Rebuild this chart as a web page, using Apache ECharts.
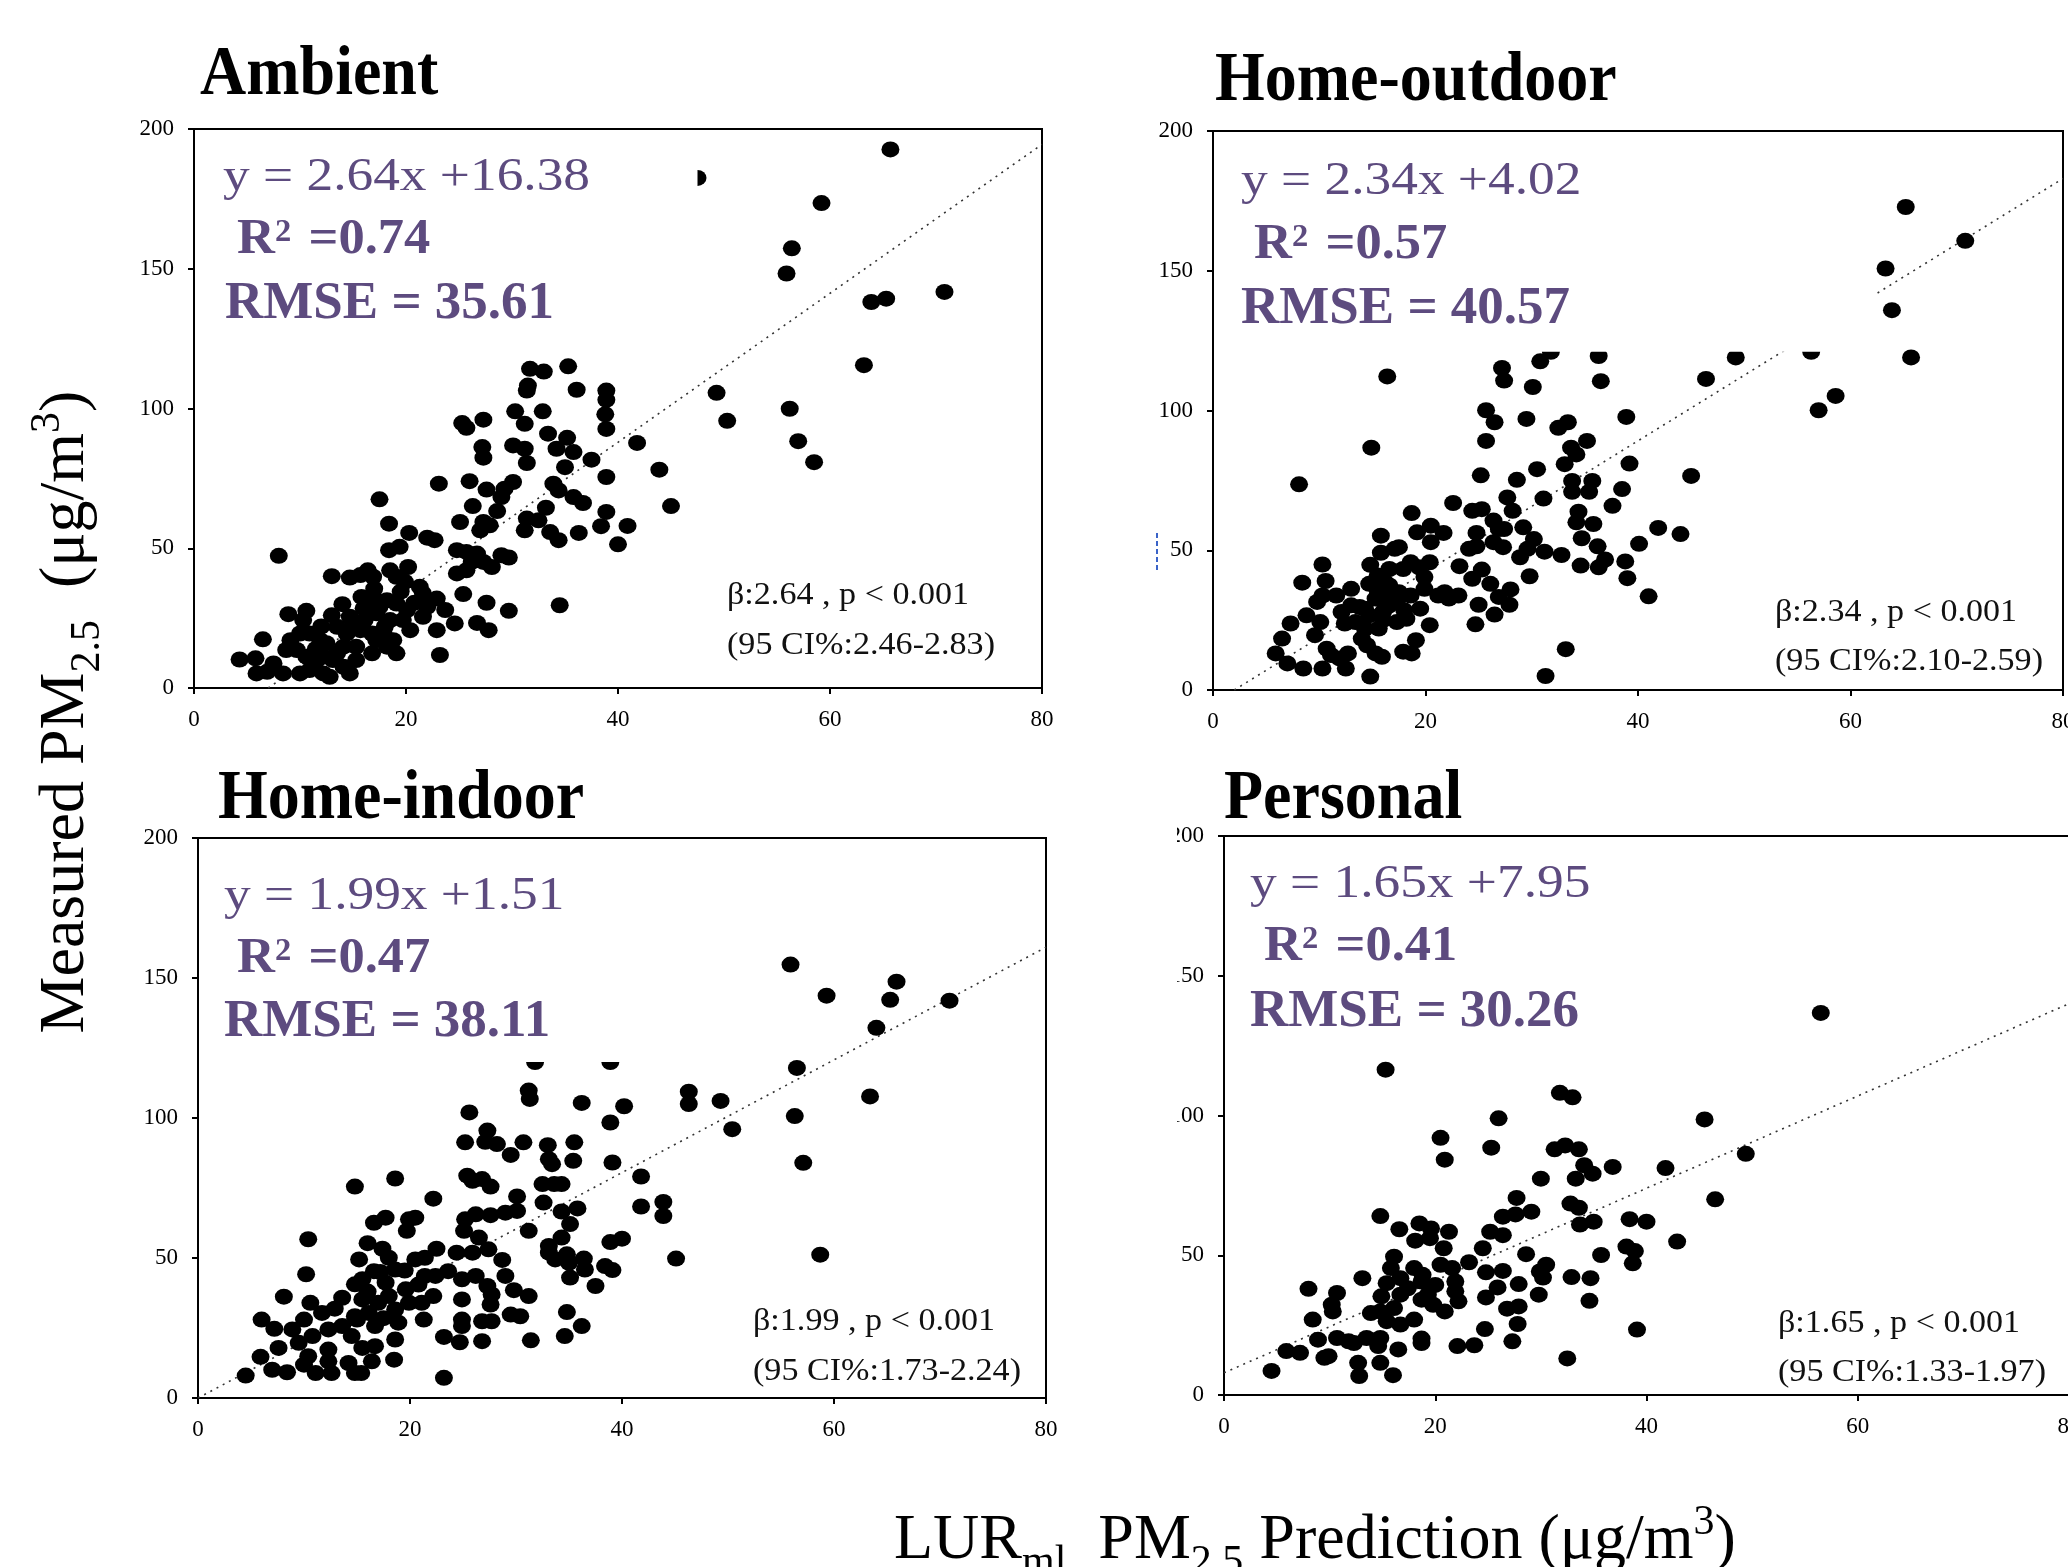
<!DOCTYPE html>
<html><head><meta charset="utf-8">
<script src="https://cdn.jsdelivr.net/npm/echarts@6/dist/echarts.min.js"></script>
<style>html,body{margin:0;padding:0;background:#fff}#c{width:2068px;height:1567px}</style>
</head><body><div id="c"></div>
<script>
// ---------------- DATA ----------------
const panelTitles = ['Ambient', 'Home-outdoor', 'Home-indoor', 'Personal'];
const equations = ['y = 2.64x +16.38', 'y = 2.34x +4.02', 'y = 1.99x +1.51', 'y = 1.65x +7.95'];
const r2Values = ['0.74', '0.57', '0.47', '0.41'];
const rmseValues = ['35.61', '40.57', '38.11', '30.26'];
const betaTexts = ['β:2.64 , p < 0.001', 'β:2.34 , p < 0.001', 'β:1.99 , p < 0.001', 'β:1.65 , p < 0.001'];
const ciTexts = ['(95 CI%:2.46-2.83)', '(95 CI%:2.10-2.59)', '(95 CI%:1.73-2.24)', '(95 CI%:1.33-1.97)'];
const xTickValues = [0, 20, 40, 60, 80];
const yTickValues = [0, 50, 100, 150, 200];

const ambientPoints = [
[31.7,114.2],[33.0,113.2],[35.3,115.1],[31.4,106.4],[31.5,108.2],[36.1,106.7],[38.9,106.4],[38.9,103.1],[38.8,97.9],[38.9,92.7],
[30.3,99.0],[32.9,99.0],[31.2,94.5],[27.3,96.0],[25.3,94.8],[25.7,93.1],[33.4,91.0],[35.2,89.5],[34.2,85.6],[35.8,84.4],
[30.1,86.8],[31.2,85.6],[31.4,80.5],[27.2,86.2],[27.3,82.4],[35.0,79.0],[37.5,81.7],[41.8,87.7],[43.9,78.1],[38.9,75.5],
[45.0,65.1],[23.1,73.1],[26.0,74.0],[27.6,71.0],[30.1,73.7],[29.3,71.3],[29.0,68.3],[26.3,65.1],[28.6,63.3],[33.9,73.1],
[34.4,70.7],[35.8,68.3],[36.7,66.2],[33.2,64.5],[32.5,60.0],[31.4,60.6],[31.2,56.4],[33.6,55.8],[34.4,52.9],[36.3,55.5],
[38.9,63.0],[38.4,57.9],[40.9,58.0],[40.0,51.4],[25.1,59.4],[27.3,59.4],[27.0,56.4],[27.9,58.2],[17.5,67.5],[18.4,58.8],
[20.3,55.5],[22.0,53.8],[22.7,52.9],[24.8,49.3],[25.7,48.7],[26.7,48.1],[26.2,45.1],[24.8,41.0],[25.7,42.1],[27.3,45.1],
[28.1,43.3],[29.0,47.5],[29.7,46.7],[25.4,33.6],[27.6,30.5],[29.7,27.6],[34.5,29.6],[26.7,23.3],[27.8,20.7],[24.6,23.1],
[23.2,11.8],[8.0,47.3],[13.0,40.0],[14.7,39.5],[15.7,40.4],[16.4,42.1],[16.9,39.8],[18.4,49.3],[19.4,50.5],[18.5,42.1],
[20.2,43.3],[19.1,39.8],[19.9,38.0],[21.3,36.2],[21.6,33.8],[22.9,32.0],[23.7,27.9],[22.9,20.7],[21.6,25.5],[20.4,20.7],
[15.8,32.6],[16.9,32.6],[18.2,31.4],[19.1,30.2],[20.1,27.9],[14.7,25.5],[16.1,24.3],[17.2,26.7],[18.5,24.3],[19.7,24.3],
[13.5,21.9],[14.4,19.5],[15.7,20.7],[16.8,19.5],[17.9,19.5],[18.8,17.1],[19.1,12.4],[16.8,12.4],[15.3,10.0],[14.7,5.2],
[13.5,12.4],[12.5,16.0],[11.9,17.1],[10.9,19.5],[10.0,19.5],[9.1,17.1],[8.7,13.6],[9.7,13.6],[10.6,11.2],[10.9,6.4],
[12.2,5.2],[12.8,4.0],[10.0,5.2],[8.4,5.2],[7.5,8.8],[6.9,5.8],[5.9,5.2],[5.8,10.6],[4.3,10.2],[6.5,17.4],
[8.9,26.4],[10.6,27.6],[10.3,24.3],[11.6,10.0],[14.1,7.6],[15.3,14.8],[14.1,14.8],[12.2,11.2],[13.1,10.0],[17.2,17.1],
[18.2,14.8],[16.0,28.5],[17.5,29.0],[18.0,22.0],[15.0,22.5],[13.0,26.0],[12.0,22.0],[17.0,35.5],[19.5,34.5],[20.8,30.5],
[22.0,29.0],[14.0,30.0],[11.5,14.0],
[65.7,192.7],[47.5,182.5],[59.2,173.5],[56.4,157.3],[55.9,148.3],[63.9,138.1],[65.3,139.3],[70.8,141.7],[63.2,115.5],
[49.3,105.6],[50.3,95.6],[56.2,99.9],[57.0,88.3],[58.5,80.8]
];

const outdoorPoints = [
[31.8,121.0],[36.3,119.5],[30.8,117.6],[27.2,115.2],[27.4,110.7],[30.1,108.4],[36.5,110.5],[46.4,111.3],[16.4,112.2],[25.7,100.1],
[26.5,95.8],[29.5,97.0],[32.5,93.8],[33.4,95.8],[38.9,97.7],[25.7,89.1],[35.2,89.1],[33.7,86.7],[34.2,84.3],[14.9,86.7],
[8.1,73.6],[33.1,80.8],[39.2,81.0],[45.0,76.6],[30.5,79.0],[25.2,76.8],[28.6,75.2],[33.8,74.8],[33.8,70.9],[35.7,74.8],
[35.4,70.9],[38.5,71.9],[37.6,65.9],[31.1,68.5],[27.7,68.9],[28.2,64.1],[22.6,66.9],[18.7,63.3],[24.4,64.1],[25.3,64.7],
[26.4,60.6],[27.4,57.6],[34.4,63.8],[34.2,60.0],[35.8,59.4],[34.7,54.3],[36.2,51.4],[29.2,58.2],[30.2,54.0],[29.6,50.5],
[28.9,47.5],[31.2,49.5],[32.8,48.3],[34.6,44.5],[36.3,43.9],[36.9,46.7],[38.8,46.0],[39.0,40.0],[40.1,52.3],[41.9,58.0],
[44.0,55.8],[41.0,33.5],[29.8,40.7],[24.8,56.2],[24.1,50.5],[24.8,51.4],[26.4,52.9],[27.3,51.1],[26.9,57.6],[25.3,43.1],
[24.4,39.8],[23.2,44.3],[26.1,38.0],[28.0,36.0],[26.9,33.3],[27.9,30.5],[25.0,30.5],[26.5,27.0],[24.7,23.5],[33.2,14.6],
[31.3,5.0],[19.2,56.4],[20.5,58.8],[21.7,56.2],[15.8,55.2],[15.8,49.1],[20.5,52.9],[17.5,51.1],[18.6,45.7],[19.4,43.9],
[20.4,45.7],[19.9,40.4],[14.8,44.8],[14.7,38.0],[16.6,37.4],[16.8,33.8],[15.3,32.7],[14.3,29.1],[16.0,27.9],[17.3,31.5],
[18.6,33.8],[19.5,29.1],[18.2,25.5],[17.3,24.3],[15.6,22.0],[14.3,22.0],[13.4,24.3],[13.8,29.7],[13.0,36.2],[12.1,27.9],
[12.4,23.8],[11.6,33.8],[10.3,44.9],[10.6,39.0],[8.4,38.4],[9.8,31.5],[10.3,33.8],[8.8,26.7],[10.1,24.3],[9.6,19.6],
[7.3,23.8],[6.5,18.4],[5.9,13.1],[7.0,9.5],[8.5,7.7],[10.3,7.7],[11.1,12.5],[12.5,7.7],[12.7,13.1],[14.0,18.4],
[14.5,16.0],[15.3,13.1],[15.9,11.9],[14.8,4.8],[17.9,13.7],[18.7,13.1],[19.1,17.8],[20.4,23.2],[21.2,33.8],[21.8,35.0],
[22.2,32.7],[23.1,33.8],[19.9,36.2],[17.9,43.3],[17.1,50.5],[16.2,38.6],[15.5,41.0],[16.6,43.3],[14.7,26.7],[13.0,30.3],
[10.7,14.8],[11.9,11.3],[16.5,30.0],[17.5,35.0],[15.5,35.5],[18.0,28.5],[16.0,25.0],
[65.2,172.8],[70.8,160.7],[63.3,150.8],[63.9,135.9],[65.7,119.0],[56.3,121.0],[49.2,119.0],[57.0,100.1],[58.6,105.2]
];

const indoorPoints = [
[31.8,120.0],[38.9,120.0],[31.2,109.8],[31.3,106.8],[36.2,105.4],[40.2,104.2],[46.3,109.4],[46.3,105.0],[38.9,98.4],[25.6,102.0],
[27.3,95.5],[27.1,91.5],[28.2,90.7],[25.2,91.3],[29.5,86.8],[30.7,91.3],[33.0,90.3],[33.1,85.3],[33.4,83.5],[35.5,91.3],
[35.4,84.7],[39.1,84.1],[41.8,79.1],[41.8,68.4],[43.9,70.0],[43.9,65.0],[45.1,49.8],[38.9,55.7],[40.0,56.9],[38.4,47.1],
[39.1,45.7],[25.4,79.4],[25.9,77.6],[26.8,78.2],[27.6,75.5],[18.6,78.4],[14.8,75.5],[22.2,71.2],[30.1,72.0],[30.1,66.8],
[29.0,66.2],[27.6,65.3],[26.2,65.6],[25.2,63.8],[25.1,59.7],[31.2,59.7],[32.6,69.8],[32.5,76.4],[33.6,76.4],[34.3,76.4],
[34.3,66.6],[35.8,67.7],[35.1,62.1],[34.3,57.3],[33.1,54.3],[33.1,51.9],[33.7,49.5],[34.8,51.3],[35.0,48.3],[36.4,49.8],
[36.5,45.9],[35.1,43.0],[37.5,40.0],[26.5,57.3],[27.4,53.1],[28.7,49.3],[29.0,43.6],[27.3,40.0],[27.7,37.0],[27.6,33.4],
[29.8,38.5],[31.2,36.4],[29.5,29.8],[30.4,29.2],[27.7,27.4],[26.8,27.4],[26.8,20.3],[24.9,35.2],[24.9,28.0],[24.9,25.7],
[24.7,19.9],[23.2,21.8],[23.2,7.2],[31.4,20.6],[34.8,30.7],[36.2,25.7],[34.6,22.1],[24.4,51.9],[25.9,51.9],[26.2,43.6],
[24.9,42.4],[23.6,45.3],[22.5,53.3],[21.4,50.1],[20.5,49.5],[21.4,43.6],[22.4,43.6],[22.2,36.4],[21.1,34.0],[21.3,28.0],
[19.9,63.8],[20.5,64.4],[19.7,59.7],[17.7,64.4],[16.6,62.6],[16.0,55.3],[17.4,53.3],[15.2,49.5],[18.0,50.1],[18.6,45.9],
[16.6,45.3],[15.5,42.4],[14.8,40.6],[13.6,35.8],[12.9,31.9],[11.7,30.4],[10.4,56.7],[10.2,44.2],[8.1,36.2],[10.6,34.0],
[10.0,28.0],[8.9,24.5],[7.2,24.7],[6.0,28.0],[7.6,17.9],[5.9,14.7],[7.0,10.1],[8.4,9.2],[4.5,8.0],[10.0,11.9],
[11.1,8.9],[12.6,8.9],[12.3,13.1],[14.2,12.5],[14.8,8.9],[15.4,8.9],[16.4,13.1],[18.5,13.7],[18.6,20.9],[16.7,18.5],
[15.5,17.9],[14.5,22.1],[12.3,17.3],[12.3,24.5],[13.6,25.7],[14.8,29.2],[16.1,30.4],[17.0,34.0],[18.6,31.6],[18.9,26.9],
[16.7,25.7],[15.5,35.2],[17.7,41.2],[19.6,38.8],[19.9,34.0],[18.0,36.4],[10.8,22.1],[9.5,19.7],[10.4,14.9],[16.0,38.0],
[17.2,45.0],[15.0,28.0],[17.5,28.5],[19.5,45.5],[20.8,40.5],
[55.9,154.8],[59.3,143.7],[65.9,148.7],[65.3,142.2],[70.9,141.9],[64.0,132.2],[56.5,117.9],[56.3,100.7],[57.1,84.0],
[58.7,51.2],[63.4,107.7],[49.3,106.1],[50.4,96.0]
];

const personalPoints = [
[15.3,116.4],[31.8,108.1],[33.0,106.5],[26.0,99.0],[45.5,98.6],[20.5,92.0],[20.9,84.2],[25.3,88.5],[31.3,87.9],[32.3,89.3],
[33.6,87.9],[34.1,82.2],[34.9,79.2],[36.8,81.6],[33.3,77.4],[30.0,77.4],[41.8,81.2],[49.4,86.3],[46.5,70.0],[27.7,70.5],
[27.6,64.6],[29.1,65.6],[26.4,63.8],[32.8,68.5],[33.6,67.0],[33.7,61.0],[35.0,62.0],[38.4,62.9],[40.0,62.0],[42.9,54.9],
[38.1,53.1],[38.9,51.5],[38.7,47.1],[35.7,50.1],[14.8,64.0],[16.6,59.3],[18.1,55.2],[18.5,61.4],[19.6,59.6],[19.5,56.1],
[21.3,58.4],[20.8,52.5],[25.2,58.4],[26.4,57.2],[24.5,52.5],[23.2,47.5],[28.6,50.4],[30.5,46.6],[29.9,44.2],[30.2,42.0],
[32.9,42.2],[34.7,41.8],[34.6,33.7],[29.8,35.9],[27.9,39.7],[24.8,43.9],[26.4,44.4],[25.9,38.5],[24.8,34.9],[26.8,30.9],
[27.9,31.7],[27.8,25.4],[24.7,23.6],[27.3,19.2],[23.7,17.8],[22.1,17.5],[18.7,20.2],[18.7,18.6],[39.1,23.4],[32.5,13.1],
[16.1,49.5],[15.8,45.4],[13.1,41.8],[15.4,40.0],[16.7,41.8],[17.4,38.2],[18.8,43.0],[20.0,39.4],[21.6,45.4],[20.5,46.6],
[21.9,40.6],[21.9,37.1],[22.2,33.5],[20.9,29.9],[19.8,32.3],[18.7,34.1],[16.7,35.9],[14.9,35.3],[14.8,29.9],[13.9,29.3],
[15.4,26.4],[16.7,25.2],[18.0,27.0],[16.1,31.1],[14.8,20.4],[14.6,17.5],[13.5,20.4],[12.3,18.6],[11.8,19.2],[10.7,20.4],
[8.9,19.8],[8.4,27.0],[8.0,38.0],[10.7,36.5],[10.2,32.3],[10.3,29.9],[9.9,13.9],[9.5,13.3],[7.2,15.1],[5.9,15.7],
[4.5,8.6],[12.7,11.5],[12.8,6.8],[14.8,11.5],[16.0,7.1],[16.5,16.3],[18.7,40.6],[18.0,45.4],[19.3,35.9],
[56.5,136.7]
];

// dotted fit line end points [x, y]
const ambientFit = [[7, 0], [80, 194.5]];
const outdoorFit = [[2, 0], [80, 183]];
const indoorFit = [[0, 0], [80, 161]];
const personalFit = [[0, 7.95], [80, 140]];

const panelPoints = [ambientPoints, outdoorPoints, indoorPoints, personalPoints];
const panelFits = [ambientFit, outdoorFit, indoorFit, personalFit];

// ---------------- LAYOUT ----------------
const FONT = '"Liberation Serif","Times New Roman",serif';
const PURPLE = '#5d4b7f';
const grids = [
  {left: 194, top: 129, width: 848, height: 559},
  {left: 1213, top: 131, width: 850, height: 559},
  {left: 198, top: 838, width: 848, height: 560},
  {left: 1224, top: 836, width: 845, height: 559}
];
// white text-box backdrop regions in data units [x0, y0, x1, y1]
const textBoxes = [[0, 121, 47.5, 200], [0, 121, 62.4, 200], [0, 120, 52, 200], null];
const titlePos = [[200, 76], [1215, 82], [218, 800], [1224, 800]];
const eqPos = [[223, 178], [1241, 182], [224, 897], [1250, 885]];
const r2Pos = [[237, 240], [1254, 245], [237, 959], [1264, 947]];
const rmsePos = [[225, 304], [1241, 309], [224, 1022], [1250, 1012]];
const betaPos = [[727, 596], [1775, 613], [753, 1322], [1778, 1324]];
const ciPos = [[727, 646], [1775, 662], [753, 1372], [1778, 1373]];

const chart = echarts.init(document.getElementById('c'), null, {renderer: 'canvas'});

const xAxes = [], yAxes = [], series = [], graphics = [];
grids.forEach((g, i) => {
  const axisCommon = {
    gridIndex: i, type: 'value',
    axisLine: {show: true, onZero: false, lineStyle: {color: '#000', width: 2}},
    axisTick: {show: true, inside: false, length: 6, lineStyle: {color: '#000', width: 2}},
    splitLine: {show: false},
    axisLabel: {show: true, color: '#000', fontFamily: FONT, fontSize: 23, hideOverlap: false}
  };
  xAxes.push(Object.assign({}, axisCommon, {
    min: xTickValues[0], max: xTickValues[xTickValues.length - 1], interval: xTickValues[1] - xTickValues[0],
    axisLabel: Object.assign({}, axisCommon.axisLabel, {margin: 20})
  }));
  yAxes.push(Object.assign({}, axisCommon, {
    min: yTickValues[0], max: yTickValues[yTickValues.length - 1], interval: yTickValues[1] - yTickValues[0],
    axisLabel: Object.assign({}, axisCommon.axisLabel, {margin: 20})
  }));
  series.push({
    type: 'line', xAxisIndex: i, yAxisIndex: i, data: panelFits[i], symbol: 'none', silent: true, z: 1,
    lineStyle: {color: '#333', width: 1.6, type: [2, 5]}
  });
  series.push({
    type: 'scatter', xAxisIndex: i, yAxisIndex: i, data: panelPoints[i], symbol: 'circle',
    symbolSize: [18, 16], itemStyle: {color: '#000', opacity: 1}, silent: true, z: 2
  });
  if (textBoxes[i]) {
    series.push({
      type: 'custom', xAxisIndex: i, yAxisIndex: i, data: [textBoxes[i]], silent: true, z: 5, clip: false,
      encode: {x: [0, 2], y: [1, 3]},
      renderItem: (params, api) => {
        const p0 = api.coord([api.value(0), api.value(3)]);
        const p1 = api.coord([api.value(2), api.value(1)]);
        return {type: 'rect', shape: {x: p0[0] + 2, y: p0[1] + 2, width: p1[0] - p0[0] - 2, height: p1[1] - p0[1] - 2},
                style: {fill: '#fff'}};
      }
    });
  }
  // texts
  graphics.push({type: 'text', x: titlePos[i][0], y: titlePos[i][1], z: 100, scaleY: 1.08,
    style: {text: panelTitles[i], font: 'bold 64px ' + FONT, fill: '#000', textAlign: 'left', textVerticalAlign: 'middle'}});
  graphics.push({type: 'text', x: eqPos[i][0], y: eqPos[i][1], z: 100, scaleX: 1.16,
    style: {text: equations[i], font: '46px ' + FONT, fill: PURPLE, textAlign: 'left', textVerticalAlign: 'middle'}});
  graphics.push({type: 'text', x: r2Pos[i][0], y: r2Pos[i][1], z: 100, scaleX: 1.05,
    style: {text: 'R{sup|2} =' + r2Values[i], font: 'bold 50px ' + FONT, fill: PURPLE, textAlign: 'left', textVerticalAlign: 'middle',
      lineHeight: 58,
      rich: {sup: {fontSize: 31, fontWeight: 'bold', fontFamily: FONT, fill: PURPLE, verticalAlign: 'top', lineHeight: 31, padding: [6, 4, 0, 0]}}}});
  graphics.push({type: 'text', x: rmsePos[i][0], y: rmsePos[i][1], z: 100,
    style: {text: 'RMSE = ' + rmseValues[i], font: 'bold 53px ' + FONT, fill: PURPLE, textAlign: 'left', textVerticalAlign: 'middle'}});
  graphics.push({type: 'text', x: betaPos[i][0], y: betaPos[i][1], z: 100, scaleX: 1.1,
    style: {text: betaTexts[i], font: '31px ' + FONT, fill: '#111', textAlign: 'left', textVerticalAlign: 'middle'}});
  graphics.push({type: 'text', x: ciPos[i][0], y: ciPos[i][1], z: 100, scaleX: 1.1,
    style: {text: ciTexts[i], font: '31px ' + FONT, fill: '#111', textAlign: 'left', textVerticalAlign: 'middle'}});
});

const axisRich = {
  sub: {fontSize: 42, fontFamily: FONT, fill: '#000', verticalAlign: 'bottom', lineHeight: 42},
  sup: {fontSize: 42, fontFamily: FONT, fill: '#000', verticalAlign: 'top', lineHeight: 42, padding: [4, 0, 0, 0]}
};
// y-axis title
graphics.push({type: 'text', x: 66, y: 712, rotation: Math.PI / 2, z: 100,
  style: {text: 'Measured PM{sub|2.5}  (μg/m{sup|3})', font: '64px ' + FONT, fill: '#000',
    textAlign: 'center', textVerticalAlign: 'middle', lineHeight: 86, rich: axisRich}});
// x-axis title
graphics.push({type: 'text', x: 894, y: 1541, z: 100,
  style: {text: 'LUR{sub|ml}  PM{sub|2.5} Prediction (μg/m{sup|3})', font: '64px ' + FONT, fill: '#000',
    textAlign: 'left', textVerticalAlign: 'middle', lineHeight: 86, rich: axisRich}});
// cropping artefacts of the source figure
graphics.push({type: 'rect', z: 100, shape: {x: 1140, y: 820, width: 37, height: 312}, style: {fill: '#fff'}});
graphics.push({type: 'line', z: 100, shape: {x1: 1157, y1: 533, x2: 1157, y2: 570},
  style: {stroke: '#3a63c8', lineWidth: 2, lineDash: [5, 3]}});

chart.setOption({
  animation: false,
  backgroundColor: '#fff',
  grid: grids.map(g => Object.assign({show: true, borderColor: '#000', borderWidth: 2, backgroundColor: 'rgba(0,0,0,0)',
    containLabel: false, outerBoundsMode: 'none'}, g)),
  xAxis: xAxes,
  yAxis: yAxes,
  series: series,
  graphic: {elements: graphics}
});
</script>
</body></html>
